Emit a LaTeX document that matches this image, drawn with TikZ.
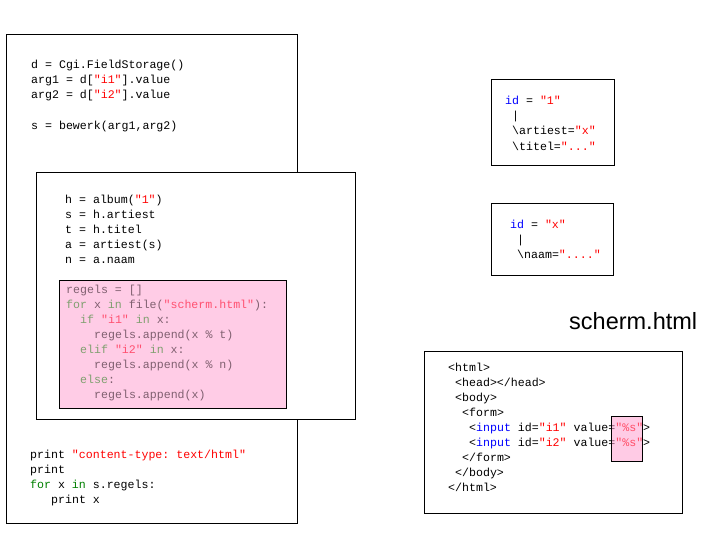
\documentclass[tikz,border=0pt]{standalone}
\usepackage{fontspec}
\setmonofont{Liberation Mono}
\newfontfamily\labelfont{Liberation Sans}
\definecolor{kwblue}{RGB}{0,0,255}
\definecolor{strred}{RGB}{255,0,0}
\definecolor{kwgreen}{RGB}{0,128,0}
\definecolor{pinkfill}{RGB}{255,204,230}
\definecolor{pinkstrong}{RGB}{255,153,205}
\definecolor{pinktext}{RGB}{128,96,112}
\definecolor{pinkgreen}{RGB}{128,160,112}
\definecolor{pinkred}{RGB}{255,80,112}
\newcommand{\sr}[1]{\textcolor{strred}{#1}}
\newcommand{\kb}[1]{\textcolor{kwblue}{#1}}
\newcommand{\kg}[1]{\textcolor{kwgreen}{#1}}
\newcommand{\pg}[1]{\textcolor{pinkgreen}{#1}}
\newcommand{\pr}[1]{\textcolor{pinkred}{#1}}
\begin{document}
\begin{tikzpicture}[x=1pt,y=-1pt,
  code/.style={anchor=base west,inner sep=0pt,font=\ttfamily\fontsize{11.6}{15}\selectfont},
  pcode/.style={code,text=pinktext},
  box/.style={draw=black,line width=1pt,fill=white},
  pinkbox/.style={draw=black,line width=1pt,fill=pinkfill}]
\useasboundingbox (0,0) rectangle (705,535);
% outer python box
\draw[box] (6,35) rectangle (297,523);
\node[code] (a1) at (31,69) {d = Cgi.FieldStorage()};
\node[code] (a2) at (31,84) {arg1 = d[\sr{"i1"}].value};
\node[code] (a3) at (31,99) {arg2 = d[\sr{"i2"}].value};
\node[code] (a4) at (31,129) {s = bewerk(arg1,arg2)};
% inner box
\draw[box] (36,172) rectangle (355,419);
\node[code] (b1) at (65,203) {h = album(\sr{"1"})};
\node[code] (b2) at (65,218) {s = h.artiest};
\node[code] (b3) at (65,233) {t = h.titel};
\node[code] (b4) at (65,248) {a = artiest(s)};
\node[code] (b5) at (65,263) {n = a.naam};
% pink box
\draw[pinkbox] (59,280) rectangle (286,408);
\node[pcode] (c1) at (66,293) {regels = []};
\node[pcode] (c2) at (66,308) {\pg{for} x \pg{in} file(\pr{"scherm.html"}):};
\node[pcode] (c3) at (80,323) {\pg{if} \pr{"i1"} \pg{in} x:};
\node[pcode] (c4) at (94,338) {regels.append(x \% t)};
\node[pcode] (c5) at (80,353) {\pg{elif} \pr{"i2"} \pg{in} x:};
\node[pcode] (c6) at (94,368) {regels.append(x \% n)};
\node[pcode] (c7) at (80,383) {\pg{else}:};
\node[pcode] (c8) at (94,398) {regels.append(x)};
% bottom code
\node[code] (d1) at (30,458) {print \sr{"content-type: text/html"}};
\node[code] (d2) at (30,473) {print};
\node[code] (d3) at (30,488) {\kg{for} x \kg{in} s.regels:};
\node[code] (d4) at (51,503) {print x};
% box A
\draw[box] (491,80) rectangle (614,165);
\node[code] (e1) at (505,105) {\kb{id} = \sr{"1"}};
\node[code] (e2) at (512,120) {|};
\node[code] (e3) at (512,135) {\textbackslash artiest=\sr{"x"}};
\node[code] (e4) at (512,150) {\textbackslash titel=\sr{"..."}};
% box B
\draw[box] (491,203) rectangle (613,275);
\node[code] (f1) at (510,228) {\kb{id} = \sr{"x"}};
\node[code] (f2) at (517,243) {|};
\node[code] (f3) at (517,258) {\textbackslash naam=\sr{"...."}};
% label
\node[anchor=base west,inner sep=0pt,font=\labelfont\fontsize{23.5}{28}\selectfont] (lbl) at (569,329) {scherm.html};
% html box
\draw[box] (424,351) rectangle (682,513);
\node[code] (g1) at (448,371) {<html>};
\node[code] (g2) at (455,386) {<head></head>};
\node[code] (g3) at (455,401) {<body>};
\node[code] (g4) at (462,416) {<form>};
\node[code] (g5) at (469,431) {<\kb{input} id=\sr{"i1"} value=\sr{"\%s"}>};
\node[code] (g6) at (469,446) {<\kb{input} id=\sr{"i2"} value=\sr{"\%s"}>};
\node[code] (g7) at (462,461) {</form>};
\node[code] (g8) at (455,476) {</body>};
\node[code] (g9) at (448,491) {</html>};
\draw[line width=1pt,draw=black,fill=pinkstrong,fill opacity=0.5] (611,416) rectangle (642,461);
\end{tikzpicture}
\end{document}
